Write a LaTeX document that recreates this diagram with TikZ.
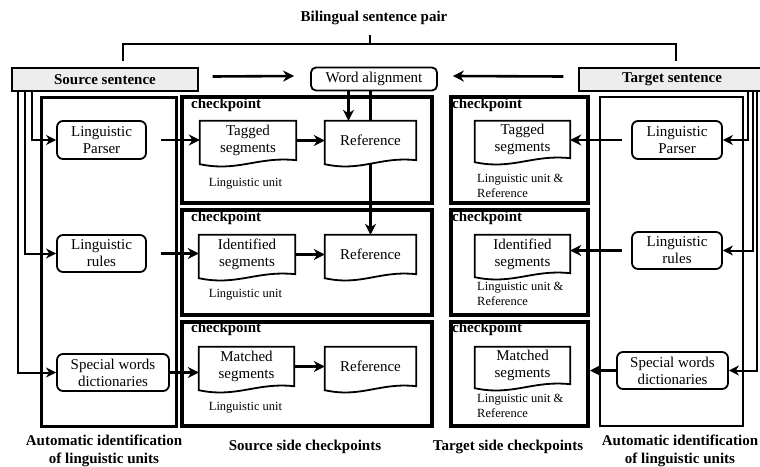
\documentclass[tikz,border=0pt]{standalone}
\usepackage{fontspec}
\setmainfont{Liberation Serif}
\usetikzlibrary{calc,arrows.meta}
\pgfdeclarelayer{bg}
\pgfsetlayers{bg,main}
\tikzset{
 conn/.style={line width=2.6pt, -{Stealth[length=11pt,width=11pt,inset=3.5pt]}},
 feed/.style={line width=2pt, -{Stealth[length=10pt,width=10pt,inset=3pt]}},
 plainline/.style={line width=2.6pt},
 cpbox/.style={draw, line width=4pt, inner sep=0pt},
 autobox/.style={draw, line width=3pt, inner sep=0pt},
 proc/.style={draw, line width=1.8pt, rounded corners=6pt, align=center, inner sep=0pt, font=\fontsize{15}{17}\selectfont},
 sentbox/.style={draw, line width=1.3pt, fill=black!7, inner sep=0pt, font=\bfseries\fontsize{15}{17}\selectfont},
 docnode/.style={inner sep=0pt, align=center, font=\fontsize{15}{17}\selectfont},
 docline/.style={draw, line width=1.8pt, fill=white},
 cplabel/.style={font=\bfseries\fontsize{15}{17}\selectfont, inner sep=0pt},
 unitlabel/.style={font=\fontsize{12.5}{15}\selectfont, inner sep=0pt, align=left},
 caption/.style={font=\bfseries\fontsize{15}{18}\selectfont, align=center, inner sep=0pt},
}
\begin{document}
\begin{tikzpicture}[x=1pt,y=-1pt]
\useasboundingbox (0,0) rectangle (760,466);

% title and bracket
\node[caption] (title) at (374,18) {Bilingual sentence pair};
\coordinate (bt) at (370,35);
\coordinate (bm) at (370,44);
\coordinate (bl) at (123,61);
\coordinate (br) at (676,61);
\draw[plainline] (bt) -- (bm);
\draw[plainline] (bl) |- (bm) -| (br);

% sentences
\node[sentbox, minimum width=186pt, minimum height=23pt] (ss) at (105,79.5) {Source sentence};
\node[sentbox, minimum width=186pt, minimum height=23pt] (ts) at (672,79.5) {Target sentence};
\node[proc, rounded corners=5pt, minimum width=126pt, minimum height=23pt] (wa) at (374,79) {Word alignment};

% big boxes
\node[autobox, minimum width=135pt, minimum height=329pt] (al) at (108.5,261.5) {};
\node[autobox, line width=2.6pt, minimum width=143pt, minimum height=329pt] (ar) at (671.5,261.5) {};
\node[cpbox, minimum width=250pt, minimum height=106pt] (sc1) at (307,150) {};
\node[cpbox, minimum width=250pt, minimum height=105pt] (sc2) at (307,262.5) {};
\node[cpbox, minimum width=250pt, minimum height=104pt] (sc3) at (307,374) {};
\node[cpbox, minimum width=137pt, minimum height=106pt] (tc1) at (519.5,150) {};
\node[cpbox, minimum width=137pt, minimum height=105pt] (tc2) at (519.5,262.5) {};
\node[cpbox, minimum width=137pt, minimum height=104pt] (tc3) at (519.5,374) {};

% checkpoint labels
\node[cplabel, anchor=base west] (cs1) at ($(sc1.north west)+(11,13)$) {checkpoint};
\node[cplabel, anchor=base west] (cs2) at ($(sc2.north west)+(11,13)$) {checkpoint};
\node[cplabel, anchor=base west] (cs3) at ($(sc3.north west)+(11,12)$) {checkpoint};
\node[cplabel, anchor=base west] (ct1) at ($(tc1.north west)+(3,13)$) {checkpoint};
\node[cplabel, anchor=base west] (ct2) at ($(tc2.north west)+(3,13)$) {checkpoint};
\node[cplabel, anchor=base west] (ct3) at ($(tc3.north west)+(3,12)$) {checkpoint};

% process nodes
\node[proc, minimum width=89pt, minimum height=38pt] (lp) at (101.5,140) {Linguistic\\Parser};
\node[proc, minimum width=89pt, minimum height=37pt] (lr) at (101.5,253.5) {Linguistic\\rules};
\node[proc, minimum width=112pt, minimum height=37pt] (ld) at (113,372.5) {Special words\\dictionaries};
\node[proc, minimum width=90pt, minimum height=38pt] (rp) at (677,140) {Linguistic\\Parser};
\node[proc, minimum width=90pt, minimum height=37pt] (rr) at (677,250.5) {Linguistic\\rules};
\node[proc, minimum width=111pt, minimum height=37pt] (rd) at (672.5,370.5) {Special words\\dictionaries};

% documents
\node[docnode, minimum width=96pt, minimum height=39pt] (t1) at (248,140.5) {Tagged\\segments};
\node[docnode, minimum width=91pt, minimum height=39pt] (r1) at (370.5,140.5) {Reference};
\node[docnode, minimum width=96pt, minimum height=39pt] (i1) at (247,254.5) {Identified\\segments};
\node[docnode, minimum width=91pt, minimum height=39pt] (r2) at (370.5,254.5) {Reference};
\node[docnode, minimum width=95pt, minimum height=39pt] (m1) at (246.5,366.5) {Matched\\segments};
\node[docnode, minimum width=91pt, minimum height=39pt] (r3) at (370.5,366.5) {Reference};
\node[docnode, minimum width=95pt, minimum height=37pt] (t2) at (522.5,139.5) {Tagged\\segments};
\node[docnode, minimum width=95pt, minimum height=38pt] (i2) at (522.5,254) {Identified\\segments};
\node[docnode, minimum width=95pt, minimum height=37pt] (m2) at (522.5,365.5) {Matched\\segments};

\begin{pgfonlayer}{bg}
\draw[conn] (wa.south -| r1.north) -- (r2.north);
\foreach \n in {t1,r1,i1,r2,m1,r3,t2,i2,m2} {
  \draw[docline] (\n.south east) -- (\n.north east) -- (\n.north west) -- ($(\n.south west)+(0,4)$)
    .. controls ($(\n.south west)!0.4!(\n.south east)+(0,12)$) and ($(\n.south west)!0.6!(\n.south east)+(0,-4)$) .. (\n.south east) -- cycle;
}
\end{pgfonlayer}

% unit labels
\node[unitlabel] (u1) at (245.5,184) {Linguistic unit};
\node[unitlabel] (u2) at (245.5,295) {Linguistic unit};
\node[unitlabel] (u3) at (245.5,408) {Linguistic unit};
\node[unitlabel, anchor=west] (v1) at (477,185.5) {Linguistic unit \&\\Reference};
\node[unitlabel, anchor=west] (v2) at (477,294) {Linguistic unit \&\\Reference};
\node[unitlabel, anchor=west] (v3) at (477,406) {Linguistic unit \&\\Reference};

% captions
\node[caption] (cap1) at (104,451) {Automatic identification\\of linguistic units};
\node[caption] (cap2) at (305,447) {Source side checkpoints};
\node[caption] (cap3) at (508,447) {Target side checkpoints};
\node[caption] (cap4) at (680,451) {Automatic identification\\of linguistic units};

% top arrows
\draw[conn] ([shift={(14,-3)}]ss.east) -- ([shift={(-16,-3)}]wa.west);
\draw[conn] ([shift={(-15,-3)}]ts.west) -- ([shift={(15,-3)}]wa.east);
\coordinate (a1) at ($(r1.north)+(-22,0)$);
\draw[conn] (wa.south -| a1) -- (a1);

% source feeds
\draw[feed] ([xshift=21pt]ss.south west) |- (lp.west);
\draw[feed] ([xshift=14pt]ss.south west) |- (lr.west);
\draw[feed] ([xshift=7pt]ss.south west) |- (ld.west);
% target feeds
\draw[feed] ([xshift=170pt]ts.south west) |- (rp.east);
\draw[feed] ([xshift=175pt]ts.south west) |- (rr.east);
\draw[feed] ([xshift=179pt]ts.south west) |- (rd.east);

% source side arrows
\draw[conn] ([xshift=14pt]lp.east) -- (lp.east -| t1.west);
\draw[conn] ([xshift=14pt]lr.east) -- (lr.east -| i1.west);
\draw[conn] (ld.east) -- (ld.east -| m1.west);
\draw[conn] (t1.east) -- (r1.west);
\draw[conn] (i1.east) -- (r2.west);
\draw[conn] (m1.east) -- (r3.west);
% target side arrows
\draw[conn] ([xshift=-9pt]rp.west) -- (rp.west -| t2.east);
\draw[conn] ([xshift=-9pt]rr.west) -- (rr.west -| i2.east);
\draw[conn] (rd.west) -- (rd.west -| tc3.east);
\end{tikzpicture}
\end{document}
